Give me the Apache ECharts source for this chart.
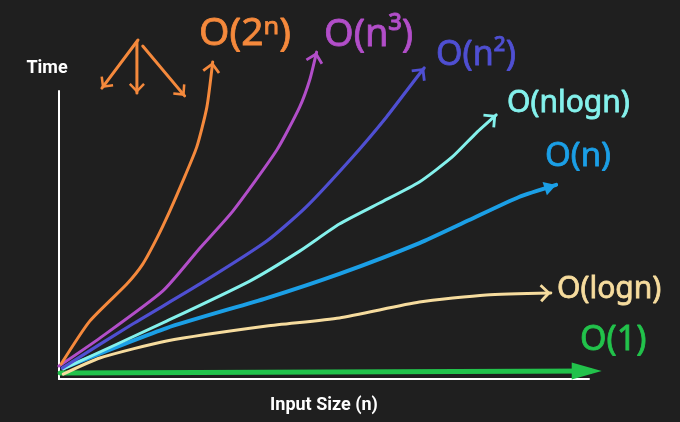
<!DOCTYPE html>
<html><head><meta charset="utf-8">
<script src="https://cdn.jsdelivr.net/npm/echarts@6/dist/echarts.min.js"></script>
<style>html,body{margin:0;padding:0;background:#1f1f1f}#c{width:680px;height:422px}</style>
</head><body><div id="c"></div>
<script>
// Curves: [input size, time] in 0..100 axis units
const labels = ['O(2ⁿ)', 'O(n³)', 'O(n²)', 'O(nlogn)', 'O(n)', 'O(logn)', 'O(1)'];
const expCurve = [[0.4,5.2],[5.8,20.1],[12.8,33.0],[15.8,39.9],[18.5,49.0],[20.9,58.3],[23.2,68.0],[26.0,80.6],[27.9,94.4],[29.0,110.1]];
const cubicCurve = [[0,4.5],[7.7,14.2],[19.6,30.6],[26.6,45.5],[32.8,58.3],[41.1,79.5],[45.4,94.4],[47.3,103.8],[48.6,113.5]];
const squareCurve = [[0.6,3.8],[13.9,19.1],[26.6,33.0],[39.2,47.9],[46.5,59.5],[55.4,77.1],[61.8,91.0],[66.7,102.8],[68.9,108.0]];
const nlognCurve = [[0.8,3.5],[20.3,20.1],[36.0,34.0],[45.4,44.4],[52.9,53.8],[60.5,61.1],[68.0,68.4],[74.2,77.1],[78.7,85.4],[82.5,91.7]];
const linearCurve = [[0.8,3.8],[20.3,17.7],[39.2,28.1],[52.9,36.5],[68.0,47.2],[77.4,55.2],[86.8,63.2],[93.8,67.4]];
const logCurve = [[0.8,1.7],[7.7,7.3],[20.3,13.2],[39.2,18.4],[52.9,21.2],[68.0,26.7],[80.6,29.2],[92.8,29.9]];
const constCurve = [[0.2,2.1],[50,2.4],[102.4,2.8]];
// doodle of three arrows near the top-left: [start, tip]
const doodleArrows = [[[14.9,117.7],[8.1,101.0]],[[14.7,117.0],[14.7,99.3]],[[15.8,115.6],[23.7,98.3]]];

const curves = [expCurve, cubicCurve, squareCurve, nlognCurve, linearCurve, logCurve, constCurve];
const colors = ['#f5893c','#b24ec9','#4f4fd2','#84f1ec','#1b9fe6','#f6dc9e','#22c24b'];
const widths = [3,3,3.2,3,4,3,5];
const CHEV = 'path://M0,0 L9,9 L7,11 L0,4 L-7,11 L-9,9 Z M0,-11 L0.01,-11 L0,-10.99 Z';
const TRI = 'path://M0,0 L7,12 L-7,12 Z M0,-12 L0.01,-12 L0,-11.99 Z';
const TRI_BIG = 'path://M0,0 L8.5,30 L-8.5,30 Z M0,-30 L0.01,-30 L0,-29.99 Z';
const heads = [CHEV,CHEV,CHEV,CHEV,TRI,CHEV,TRI_BIG];
const headSizes = [[18,22],[18,22],[18,22],[18,22],[14,24],[18,22],[17,60]];
const headRot = [-9,-14,-38,-50,-72,-88,-90];
const doodleRot = [143, 180, -140];
const labelPos = [[199,34,39],[324,35,38],[436,55,34],[507,103,30],[545,157,33],[557,289,30],[580,340,34]];

function arrowData(c, head, size, rot) {
  return c.map((p, j) => j === c.length - 1
    ? { value: p, symbol: head, symbolSize: size, symbolRotate: rot, symbolKeepAspect: false }
    : { value: p });
}

const series = curves.map((c, i) => ({
  type: 'line', name: labels[i], smooth: 0.2, clip: false,
  symbol: 'circle', symbolSize: 0, showSymbol: true, showAllSymbol: true,
  lineStyle: { color: colors[i], width: widths[i], cap: 'round', join: 'round' },
  itemStyle: { color: colors[i] },
  data: arrowData(c, heads[i], headSizes[i], headRot[i]),
  z: 10 - i
}));
doodleArrows.forEach((a, k) => series.push({
  type: 'line', clip: false, symbol: 'circle', symbolSize: 0, showSymbol: true, showAllSymbol: true,
  lineStyle: { color: colors[0], width: 3, cap: 'round' },
  itemStyle: { color: colors[0] },
  data: arrowData(a, CHEV, [16, 20], doodleRot[k])
}));

const chart = echarts.init(document.getElementById('c'), null, { renderer: 'canvas' });
chart.setOption({
  backgroundColor: '#1f1f1f',
  animation: false,
  grid: { left: 59, right: 91, top: 91, bottom: 43 },
  xAxis: { type: 'value', min: 0, max: 100,
    name: 'Input Size (n)', nameLocation: 'middle', nameGap: 17,
    nameTextStyle: { color: '#ffffff', fontFamily: 'Roboto', fontWeight: 'bold', fontSize: 18 },
    axisLine: { lineStyle: { color: '#ffffff', width: 2 } },
    axisTick: { show: false }, axisLabel: { show: false }, splitLine: { show: false } },
  yAxis: { type: 'value', min: 0, max: 100,
    axisLine: { show: true, lineStyle: { color: '#ffffff', width: 2 } },
    axisTick: { show: false }, axisLabel: { show: false }, splitLine: { show: false } },
  graphic: [
    { type: 'text', style: { text: 'Time', x: 47, y: 68, align: 'center', verticalAlign: 'middle',
      fill: '#ffffff', font: 'bold 18px Roboto' } }
  ].concat(labels.map((t, i) => ({
    type: 'text', style: { text: t, x: labelPos[i][0], y: labelPos[i][1], verticalAlign: 'middle',
      fill: colors[i], stroke: colors[i], lineWidth: 0.8,
      font: labelPos[i][2] + 'px "Noto Sans"' } }))),
  series: series
});
</script></body></html>
